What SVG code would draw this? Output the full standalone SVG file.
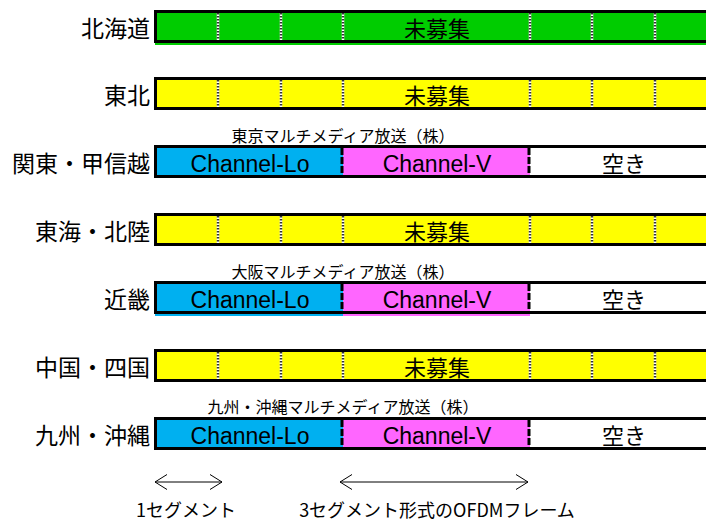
<svg xmlns="http://www.w3.org/2000/svg" width="706" height="523" viewBox="0 0 706 523">
<style>
.bg{fill:#ffffff}
.frame{fill:none;stroke:#000;stroke-width:3}
.green{fill:#00CC00}
.yellow{fill:#FFFF00}
.blue{fill:#00B0F0}
.mag{fill:#FF66FF}
.white{fill:#ffffff}
.segw{stroke:#ffffff;stroke-width:2.5}
.seg{stroke:#333;stroke-width:2.5;stroke-dasharray:1.5 1.5}
.chdiv{stroke:#000;stroke-width:3;stroke-dasharray:7 2}
.lbl{font-family:"Noto Sans CJK JP","Noto Sans",sans-serif;font-size:23px;fill:#000;text-anchor:end}
.mid{font-family:"Noto Sans CJK JP","Noto Sans",sans-serif;font-size:22px;fill:#000;text-anchor:middle}
.ch{font-family:"Liberation Sans",Arial,sans-serif;font-size:23px;fill:#000;text-anchor:middle}
.cap{font-family:"Noto Sans CJK JP","Noto Sans",sans-serif;font-size:16px;fill:#000;text-anchor:middle}
.bot{font-family:"Noto Sans CJK JP","Noto Sans",sans-serif;font-size:18px;fill:#000;text-anchor:middle}
.arr{stroke:#000;stroke-width:1;fill:none}
</style>
<defs>
<marker id="chev" markerUnits="userSpaceOnUse" markerWidth="14" markerHeight="18" viewBox="-13 -9 14 18" refX="0" refY="0" orient="auto-start-reverse">
<path d="M-12,-7.5 L0,0 L-12,7.5" fill="none" stroke="#000" stroke-width="1"/>
</marker>
<g id="segs">
<line class="segw" x1="218" y1="3" x2="218" y2="31"/><line class="seg" x1="218" y1="3" x2="218" y2="31"/>
<line class="segw" x1="281" y1="3" x2="281" y2="31"/><line class="seg" x1="281" y1="3" x2="281" y2="31"/>
<line class="segw" x1="343" y1="3" x2="343" y2="31"/><line class="seg" x1="343" y1="3" x2="343" y2="31"/>
<line class="segw" x1="530" y1="3" x2="530" y2="31"/><line class="seg" x1="530" y1="3" x2="530" y2="31"/>
<line class="segw" x1="592" y1="3" x2="592" y2="31"/><line class="seg" x1="592" y1="3" x2="592" y2="31"/>
<line class="segw" x1="655" y1="3" x2="655" y2="31"/><line class="seg" x1="655" y1="3" x2="655" y2="31"/>
</g>
</defs>
<rect class="bg" x="0" y="0" width="706" height="523"/>

<g id="hokkaido" transform="translate(0,10)">
<rect class="green" x="155" y="1" width="570" height="34"/>
<use href="#segs"/>
<rect class="frame" x="155.5" y="1.5" width="570" height="30"/>
<text class="lbl" x="150" y="27">北海道</text>
<text class="mid" x="437" y="27">未募集</text>
</g>

<g id="tohoku" transform="translate(0,77)">
<rect class="yellow" x="155" y="1" width="570" height="31"/>
<use href="#segs"/>
<rect class="frame" x="155.5" y="1.5" width="570" height="30"/>
<text class="lbl" x="150" y="27">東北</text>
<text class="mid" x="437" y="27">未募集</text>
</g>

<g id="kanto" transform="translate(0,145)">
<text class="cap" x="343" y="-3">東京マルチメディア放送（株）</text>
<rect class="blue" x="155" y="1" width="188" height="31"/>
<rect class="mag" x="343" y="1" width="187" height="31"/>
<line class="chdiv" x1="342" y1="3" x2="342" y2="31"/>
<line class="chdiv" x1="529" y1="3" x2="529" y2="31"/>
<rect class="frame" x="155.5" y="1.5" width="570" height="30"/>
<text class="lbl" x="150" y="27">関東・甲信越</text>
<text class="ch" x="250" y="27">Channel-Lo</text>
<text class="ch" x="437" y="27">Channel-V</text>
<text class="mid" x="624" y="27">空き</text>
</g>

<g id="tokai" transform="translate(0,213)">
<rect class="yellow" x="155" y="1" width="570" height="31"/>
<use href="#segs"/>
<rect class="frame" x="155.5" y="1.5" width="570" height="30"/>
<text class="lbl" x="150" y="27">東海・北陸</text>
<text class="mid" x="437" y="27">未募集</text>
</g>

<g id="kinki" transform="translate(0,281)">
<text class="cap" x="343" y="-3">大阪マルチメディア放送（株）</text>
<rect class="blue" x="155" y="1" width="188" height="34"/>
<rect class="mag" x="343" y="1" width="187" height="34"/>
<line class="chdiv" x1="342" y1="3" x2="342" y2="31"/>
<line class="chdiv" x1="529" y1="3" x2="529" y2="31"/>
<rect class="frame" x="155.5" y="1.5" width="570" height="30"/>
<text class="lbl" x="150" y="27">近畿</text>
<text class="ch" x="250" y="27">Channel-Lo</text>
<text class="ch" x="437" y="27">Channel-V</text>
<text class="mid" x="624" y="27">空き</text>
</g>

<g id="chugoku" transform="translate(0,349)">
<rect class="yellow" x="155" y="1" width="570" height="31"/>
<use href="#segs"/>
<rect class="frame" x="155.5" y="1.5" width="570" height="30"/>
<text class="lbl" x="150" y="27">中国・四国</text>
<text class="mid" x="437" y="27">未募集</text>
</g>

<g id="kyushu" transform="translate(0,417)">
<text class="cap" x="343" y="-4">九州・沖縄マルチメディア放送（株）</text>
<rect class="blue" x="155" y="1" width="188" height="31"/>
<rect class="mag" x="343" y="1" width="187" height="31"/>
<line class="chdiv" x1="342" y1="3" x2="342" y2="31"/>
<line class="chdiv" x1="529" y1="3" x2="529" y2="31"/>
<rect class="frame" x="155.5" y="1.5" width="570" height="30"/>
<text class="lbl" x="150" y="27">九州・沖縄</text>
<text class="ch" x="250" y="27">Channel-Lo</text>
<text class="ch" x="437" y="27">Channel-V</text>
<text class="mid" x="624" y="27">空き</text>
</g>

<g id="connectors">
<line class="arr" x1="155" y1="482" x2="222" y2="482" marker-start="url(#chev)" marker-end="url(#chev)"/>
<line class="arr" x1="340" y1="482" x2="528" y2="482" marker-start="url(#chev)" marker-end="url(#chev)"/>
</g>

<g id="legend">
<text class="bot" x="186" y="517">1セグメント</text>
<text class="bot" x="437" y="517">3セグメント形式のOFDMフレーム</text>
</g>
</svg>
